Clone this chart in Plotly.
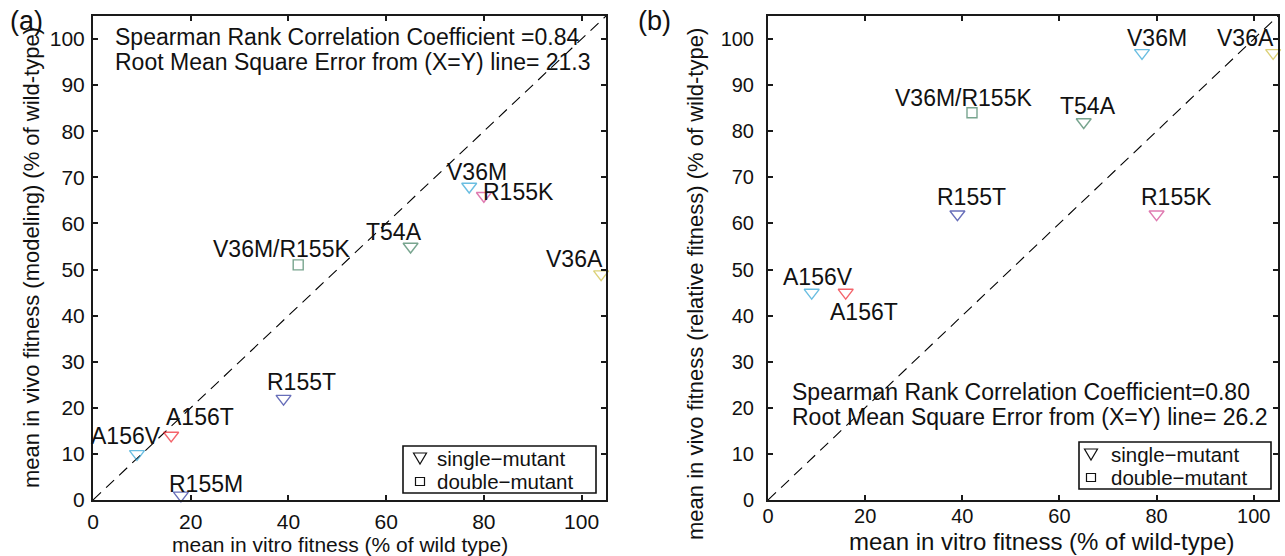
import plotly.graph_objects as go

# ---------------- data ----------------
mutants = ["A156V", "A156T", "R155M", "R155T", "V36M/R155K", "T54A", "V36M", "R155K", "V36A"]
kinds = ["single", "single", "single", "single", "double", "single", "single", "single", "single"]
colors = ["#2ba2d4", "#f0222c", "#27319b", "#27319b", "#3f7f5f", "#3f7f5f", "#2ba2d4", "#d2418e", "#cdbd3e"]

# panel (a)
a_vitro = [9, 16, 18, 39, 42, 65, 77, 80, 104]
a_vivo = [10, 14, 1, 22, 51, 55, 68, 66, 49]

# panel (b) (R155M not shown)
b_names = ["A156V", "A156T", "R155T", "V36M/R155K", "T54A", "V36M", "R155K", "V36A"]
b_vitro = [9, 16, 39, 42, 65, 77, 80, 104]
b_vivo = [45, 45, 62, 84, 82, 97, 62, 97]

diag = [0, 105]
x_ticks = [0, 20, 40, 60, 80, 100]
y_ticks = [0, 10, 20, 30, 40, 50, 60, 70, 80, 90, 100]

stats_a = ["Spearman Rank Correlation Coefficient =0.84", "Root Mean Square Error from (X=Y) line= 21.3"]
stats_b = ["Spearman Rank Correlation Coefficient=0.80", "Root Mean Square Error from (X=Y) line= 26.2"]
legend_labels = ["single−mutant", "double−mutant"]

# ---------------- layout helpers (pixel offsets of labels) ----------------
W, H = 1285, 556
label_off_a = {"A156V": (-11, 18), "A156T": (29, 18), "R155M": (25, 11), "R155T": (18, 17),
               "V36M/R155K": (-17, 16), "T54A": (-17, 14), "V36M": (8, 15), "R155K": (35, 4),
               "V36A": (-27, 15)}
label_off_b = {"A156V": (6, 16), "A156T": (18, -19), "R155T": (14, 17), "V36M/R155K": (-9, 15),
               "T54A": (4, 16), "V36M": (15, 15), "V36A": (-28, 15), "R155K": (20, 17)}

FONT = "Liberation Sans, Arial, Helvetica, sans-serif"
INK = "#111111"
color_of = dict(zip(mutants, colors))
kind_of = dict(zip(mutants, kinds))
symbol_of = {"single": "triangle-down-open", "double": "square-open"}
size_of = {"single": 13, "double": 10}


def px(x, y):
    return x / W, 1 - y / H


fig = go.Figure()

for xref, yref, xs, ys, names in [("x", "y", a_vitro, a_vivo, mutants),
                                  ("x2", "y2", b_vitro, b_vivo, b_names)]:
    fig.add_trace(go.Scatter(x=diag, y=diag, mode="lines", xaxis=xref, yaxis=yref,
                             line=dict(color="black", width=1.1, dash="11px,7px"),
                             showlegend=False, hoverinfo="skip"))
    fig.add_trace(go.Scatter(
        x=xs, y=ys, mode="markers", xaxis=xref, yaxis=yref, showlegend=False,
        text=names,
        marker=dict(symbol=[symbol_of[kind_of[n]] for n in names],
                    size=[size_of[kind_of[n]] for n in names],
                    color=[color_of[n] for n in names],
                    line=dict(width=1.4, color=[color_of[n] for n in names])),
        cliponaxis=False))

annotations = []
for xref, yref, xs, ys, names, offs in [("x", "y", a_vitro, a_vivo, mutants, label_off_a),
                                        ("x2", "y2", b_vitro, b_vivo, b_names, label_off_b)]:
    for n, xv, yv in zip(names, xs, ys):
        dx, dy = offs[n]
        annotations.append(dict(x=xv, y=yv, xref=xref, yref=yref, text=n, showarrow=False,
                                xshift=dx, yshift=dy, xanchor="center", yanchor="middle",
                                font=dict(family=FONT, size=23, color=INK)))


def paper_text(t, cx, cy, size, anchor="left", angle=0):
    x, y = px(cx, cy)
    annotations.append(dict(x=x, y=y, xref="paper", yref="paper", text=t, showarrow=False,
                            xanchor=anchor, yanchor="middle", textangle=angle,
                            borderpad=0, font=dict(family=FONT, size=size, color=INK)))


# stats text
for t, yy in zip(stats_a, [37, 62]):
    paper_text(t, 114, yy, 23)
for t, yy in zip(stats_b, [392, 417]):
    paper_text(t, 791, yy, 23)

# panel letters
paper_text("(a)", 26, 21, 27, "center")
paper_text("(b)", 654, 21, 27, "center")

# axis titles
paper_text("mean in vitro fitness (% of wild type)", 340, 544.5, 21, "center")
paper_text("mean in vitro fitness (% of wild-type)", 1041, 541.5, 24, "center")
paper_text("mean in vivo fitness (modeling) (% of wild-type)", 31, 258, 22, "center", -90)
paper_text("mean in vivo fitness (relative fitness) (% of wild-type)", 695, 284, 22, "center", -90)

# manual legends (box, glyphs, labels)
shapes = []
for (x0, y0, x1, y1), sx, tx, r1, r2 in [((403, 446, 596, 493), 420, 436, 458, 481.5),
                                         ((1079, 442, 1271, 489), 1091, 1110, 454, 477.5)]:
    a0, b0 = px(x0, y0)
    a1, b1 = px(x1, y1)
    shapes.append(dict(type="rect", xref="paper", yref="paper", x0=a0, x1=a1, y0=b1, y1=b0,
                       line=dict(color=INK, width=1.6), fillcolor="white", layer="above"))
    # triangle glyph
    ta, tb = px(sx - 6.5, r1 - 5)
    tc, td = px(sx + 6.5, r1 - 5)
    te, tf = px(sx, r1 + 6)
    shapes.append(dict(type="path", xref="paper", yref="paper",
                       path=f"M {ta} {tb} L {tc} {td} L {te} {tf} Z",
                       line=dict(color=INK, width=1.2), layer="above"))
    # square glyph
    qa, qb = px(sx - 4.5, r2 - 4)
    qc, qd = px(sx + 4.5, r2 + 4)
    shapes.append(dict(type="rect", xref="paper", yref="paper", x0=qa, x1=qc, y0=qd, y1=qb,
                       line=dict(color=INK, width=1.2), layer="above"))
    paper_text(legend_labels[0], tx, r1, 20.5)
    paper_text(legend_labels[1], tx, r2, 20.5)

axis_common = dict(range=[0, 105], showgrid=False, zeroline=False, showline=True,
                   linecolor="#1a1a1a", linewidth=2, mirror="ticks", ticks="inside",
                   ticklen=5, tickwidth=1.5, tickcolor="#1a1a1a", automargin=False,
                   tickfont=dict(family=FONT, size=21, color=INK))

fig.update_layout(
    width=W, height=H, autosize=False,
    margin=dict(l=0, r=0, t=0, b=0, pad=0),
    paper_bgcolor="white", plot_bgcolor="white",
    showlegend=False,
    xaxis=dict(domain=[93 / W, 606 / W], anchor="y", tickvals=x_ticks, ticklabelstandoff=2, **axis_common),
    yaxis=dict(domain=[1 - 500 / H, 1 - 16 / H], anchor="x", tickvals=y_ticks, ticklabelstandoff=2, **axis_common),
    xaxis2=dict(domain=[768 / W, 1278 / W], anchor="y2", tickvals=x_ticks, ticklabelstandoff=-3,
                **{**axis_common, "tickfont": dict(family=FONT, size=20, color=INK)}),
    yaxis2=dict(domain=[1 - 500 / H, 1 - 16 / H], anchor="x2", tickvals=y_ticks, ticklabelstandoff=8,
                **{**axis_common, "tickfont": dict(family=FONT, size=20, color=INK)}),
    annotations=annotations,
    shapes=shapes,
)

fig.write_html("out.html")
